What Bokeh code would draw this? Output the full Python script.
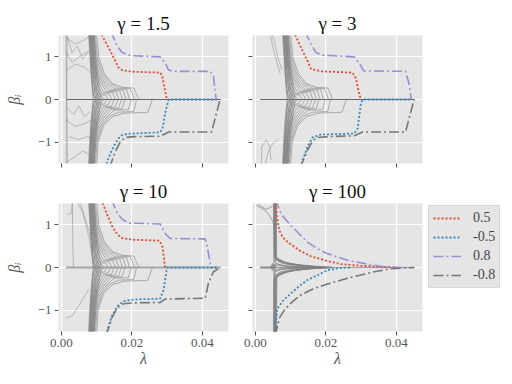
from bokeh.plotting import figure
from bokeh.layouts import column, row
from bokeh.models import (Range1d, FixedTicker, Legend, LegendItem, NumeralTickFormatter,
                          CustomJSTickFormatter)
from bokeh.embed import file_html
from bokeh.resources import INLINE

# ---------------- data ----------------
gamma_titles = ["γ = 1.5", "γ = 3", "γ = 10", "γ = 100"]
x_ticks = [0.0, 0.02, 0.04]
y_ticks = [-1, 0, 1]
y_tick_labels = {-1: "−1", 0: "0", 1: "1"}
legend_labels = ["0.5", "-0.5", "0.8", "-0.8"]

# highlighted coefficient paths, gamma = 1.5
red_g15_lam = [0.0108, 0.0125, 0.0139, 0.0153, 0.0162, 0.0172, 0.0186, 0.0205, 0.0280, 0.0286, 0.0292, 0.0299]
red_g15_beta = [1.6, 1.35, 1.13, 0.90, 0.75, 0.69, 0.67, 0.65, 0.63, 0.55, 0.29, 0.0]
blue_g15_lam = [0.0124, 0.0130, 0.0139, 0.0153, 0.0162, 0.0172, 0.0195, 0.0280, 0.0288, 0.0294, 0.0304, 0.0441]
blue_g15_beta = [-1.6, -1.45, -1.26, -1.03, -0.91, -0.83, -0.80, -0.77, -0.64, -0.33, 0.0, 0.0]
purple_g15_lam = [0.0140, 0.0158, 0.0172, 0.0195, 0.0280, 0.0294, 0.0304, 0.0318, 0.0422, 0.0431, 0.0439]
purple_g15_beta = [1.6, 1.25, 1.10, 1.03, 1.00, 0.86, 0.69, 0.66, 0.66, 0.56, 0.0]
gray_g15_lam = [0.0136, 0.0153, 0.0167, 0.0181, 0.0205, 0.0280, 0.0304, 0.0426, 0.0450]
gray_g15_beta = [-1.6, -1.22, -0.99, -0.89, -0.87, -0.86, -0.76, -0.76, 0.0]

# gamma = 3
red_g3_lam = [0.0108, 0.0134, 0.0148, 0.0158, 0.0172, 0.0186, 0.0275, 0.0285, 0.0292, 0.0299]
red_g3_beta = [1.6, 1.13, 0.90, 0.71, 0.69, 0.66, 0.63, 0.50, 0.21, 0.0]
blue_g3_lam = [0.0126, 0.0148, 0.0162, 0.0186, 0.0280, 0.0290, 0.0299, 0.0304, 0.0441]
blue_g3_beta = [-1.6, -1.10, -0.89, -0.82, -0.80, -0.68, -0.10, 0.0, 0.0]
purple_g3_lam = [0.0140, 0.0158, 0.0172, 0.0191, 0.0280, 0.0294, 0.0307, 0.0426, 0.0436, 0.0442]
purple_g3_beta = [1.6, 1.29, 1.10, 1.04, 1.00, 0.86, 0.67, 0.66, 0.36, 0.0]
gray_g3_lam = [0.0127, 0.0148, 0.0162, 0.0176, 0.0205, 0.0280, 0.0304, 0.0426, 0.0450]
gray_g3_beta = [-1.6, -1.18, -0.97, -0.89, -0.87, -0.85, -0.76, -0.76, 0.0]

# gamma = 10
red_g10_lam = [0.0113, 0.0129, 0.0143, 0.0158, 0.0172, 0.0205, 0.0278, 0.0287, 0.0294]
red_g10_beta = [1.6, 1.25, 0.98, 0.78, 0.69, 0.65, 0.63, 0.48, 0.0]
blue_g10_lam = [0.0125, 0.0143, 0.0158, 0.0176, 0.0205, 0.0280, 0.0290, 0.0299, 0.0301, 0.0445]
blue_g10_beta = [-1.6, -1.14, -0.91, -0.79, -0.75, -0.73, -0.52, -0.02, 0.0, 0.0]
purple_g10_lam = [0.0141, 0.0158, 0.0172, 0.0191, 0.0280, 0.0296, 0.0308, 0.0408, 0.0414, 0.0424]
purple_g10_beta = [1.6, 1.28, 1.13, 1.04, 1.02, 0.78, 0.68, 0.67, 0.48, 0.0]
gray_g10_lam = [0.0127, 0.0143, 0.0158, 0.0176, 0.0205, 0.0280, 0.0294, 0.0408, 0.0417, 0.0431, 0.0452]
gray_g10_beta = [-1.6, -1.18, -0.95, -0.85, -0.83, -0.82, -0.74, -0.72, -0.37, -0.10, 0.0]

# gamma = 100
red_g100_lam = [0.0056, 0.0061, 0.0068, 0.0077, 0.0092, 0.0125, 0.0158, 0.0205, 0.0242, 0.0299, 0.0356, 0.0403]
red_g100_beta = [1.6, 1.17, 0.86, 0.71, 0.59, 0.40, 0.26, 0.15, 0.08, 0.04, 0.015, 0.0]
blue_g100_lam = [0.0056, 0.0061, 0.0077, 0.0101, 0.0125, 0.0148, 0.0176, 0.0205, 0.0242, 0.0270]
blue_g100_beta = [-1.6, -0.98, -0.79, -0.60, -0.43, -0.29, -0.18, -0.06, -0.01, 0.0]
purple_g100_lam = [0.0056, 0.0073, 0.0101, 0.0125, 0.0148, 0.0176, 0.0205, 0.0261, 0.0318, 0.0356, 0.0403, 0.0450]
purple_g100_beta = [1.6, 1.25, 0.98, 0.78, 0.59, 0.44, 0.32, 0.17, 0.08, 0.03, 0.0, 0.0]
gray_g100_lam = [0.0056, 0.0068, 0.0082, 0.0101, 0.0125, 0.0158, 0.0195, 0.0261, 0.0337, 0.0384, 0.0450]
gray_g100_beta = [-1.6, -1.18, -1.00, -0.83, -0.66, -0.52, -0.41, -0.25, -0.10, -0.03, 0.0]

# background coefficient paths (gamma = 1.5, 3, 10)
bundle_up_lam = [
    [0.0076, 0.0081, 0.0085, 0.0090, 0.0095, 0.0105, 0.0112],
    [0.0078, 0.0083, 0.0088, 0.0095, 0.0105, 0.0115, 0.0123],
    [0.0079, 0.0085, 0.0091, 0.0100, 0.0110, 0.0125, 0.0133],
    [0.0081, 0.0087, 0.0094, 0.0105, 0.0115, 0.0135, 0.0143],
    [0.0083, 0.0089, 0.0097, 0.0110, 0.0120, 0.0145, 0.0153],
    [0.0085, 0.0091, 0.0100, 0.0115, 0.0128, 0.0155, 0.0163],
    [0.0087, 0.0093, 0.0103, 0.0120, 0.0135, 0.0165, 0.0173],
    [0.0089, 0.0096, 0.0107, 0.0125, 0.0142, 0.0175, 0.0183],
    [0.0092, 0.0099, 0.0111, 0.0130, 0.0150, 0.0185, 0.0193],
    [0.0095, 0.0102, 0.0116, 0.0138, 0.0160, 0.0195, 0.0208],
    [0.0099, 0.0106, 0.0122, 0.0145, 0.0175, 0.0205, 0.0220],
]
bundle_up_beta = [
    [1.6, 1.0, 0.50, 0.15, 0.05, 0.04, 0.0],
    [1.6, 1.0, 0.55, 0.20, 0.08, 0.07, 0.0],
    [1.6, 1.0, 0.55, 0.25, 0.11, 0.10, 0.0],
    [1.6, 1.0, 0.60, 0.30, 0.14, 0.13, 0.0],
    [1.6, 1.0, 0.60, 0.32, 0.17, 0.16, 0.0],
    [1.6, 1.0, 0.60, 0.34, 0.19, 0.18, 0.0],
    [1.6, 1.0, 0.60, 0.35, 0.21, 0.20, 0.0],
    [1.6, 1.0, 0.60, 0.36, 0.23, 0.22, 0.0],
    [1.6, 1.0, 0.62, 0.38, 0.25, 0.24, 0.0],
    [1.6, 1.0, 0.62, 0.38, 0.27, 0.26, 0.0],
    [1.6, 1.0, 0.60, 0.37, 0.28, 0.27, 0.0],
]
bundle_dn_lam = [
    [0.0076, 0.0080, 0.0084, 0.0089, 0.0094, 0.0102, 0.0109],
    [0.0078, 0.0082, 0.0087, 0.0094, 0.0103, 0.0112, 0.0120],
    [0.0080, 0.0084, 0.0090, 0.0099, 0.0108, 0.0122, 0.0130],
    [0.0081, 0.0086, 0.0093, 0.0104, 0.0114, 0.0132, 0.0140],
    [0.0083, 0.0088, 0.0096, 0.0109, 0.0120, 0.0142, 0.0150],
    [0.0085, 0.0090, 0.0099, 0.0114, 0.0127, 0.0152, 0.0160],
    [0.0087, 0.0092, 0.0102, 0.0119, 0.0134, 0.0162, 0.0170],
    [0.0089, 0.0095, 0.0106, 0.0124, 0.0141, 0.0172, 0.0180],
    [0.0092, 0.0098, 0.0110, 0.0129, 0.0150, 0.0190, 0.0198],
    [0.0095, 0.0101, 0.0115, 0.0136, 0.0160, 0.0205, 0.0213],
    [0.0099, 0.0104, 0.0120, 0.0145, 0.0180, 0.0245, 0.0258],
]
bundle_dn_beta = [
    [-1.6, -1.0, -0.50, -0.15, -0.05, -0.04, 0.0],
    [-1.6, -1.0, -0.55, -0.20, -0.08, -0.07, 0.0],
    [-1.6, -1.0, -0.55, -0.24, -0.11, -0.10, 0.0],
    [-1.6, -1.0, -0.60, -0.30, -0.14, -0.13, 0.0],
    [-1.6, -1.0, -0.60, -0.32, -0.17, -0.16, 0.0],
    [-1.6, -1.0, -0.60, -0.34, -0.19, -0.18, 0.0],
    [-1.6, -1.0, -0.60, -0.36, -0.21, -0.20, 0.0],
    [-1.6, -1.0, -0.62, -0.38, -0.23, -0.22, 0.0],
    [-1.6, -1.0, -0.62, -0.40, -0.25, -0.24, 0.0],
    [-1.6, -1.0, -0.62, -0.40, -0.30, -0.28, 0.0],
    [-1.6, -1.0, -0.60, -0.40, -0.32, -0.30, 0.0],
]
trunk_lam = [
    [0.0079, 0.0083, 0.0087, 0.0090],
    [0.0081, 0.0085, 0.0089, 0.0093],
    [0.0084, 0.0088, 0.0093, 0.0097],
    [0.0086, 0.0091, 0.0096, 0.0101],
    [0.0088, 0.0093, 0.0099, 0.0104],
    [0.0090, 0.0096, 0.0103, 0.0108],
    [0.0092, 0.0099, 0.0107, 0.0113],
]
trunk_up_beta = [1.6, 0.8, 0.3, 0.0]
trunk_dn_beta = [-1.6, -0.8, -0.3, 0.0]

g15_extra_lam = [
    [0.0012, 0.0040, 0.0068, 0.0087],
    [0.0012, 0.0030, 0.0049, 0.0078],
    [0.0012, 0.0040, 0.0068, 0.0085],
    [0.0012, 0.0040, 0.0068, 0.0087],
    [0.0021, 0.0049, 0.0073, 0.0088],
    [0.0012, 0.0040, 0.0060, 0.0080],
    [0.0013, 0.0014, 0.0013],
    [0.0016, 0.0015, 0.0017],
    [0.0015, 0.0030, 0.0045, 0.0060, 0.0075],
    [0.0015, 0.0035, 0.0050, 0.0065, 0.0080],
]
g15_extra_beta = [
    [1.45, 1.30, 1.41, 1.55],
    [1.14, 0.87, 0.99, 1.14],
    [0.68, 0.83, 0.75, 0.60],
    [-0.48, -0.63, -0.56, -0.48],
    [-0.87, -0.94, -0.87, -0.90],
    [-1.48, -1.33, -1.20, -1.30],
    [1.6, 0.0, -1.6],
    [1.6, 0.2, -1.6],
    [1.50, 1.10, 1.25, 0.95, 1.10],
    [-0.20, -0.35, -0.15, -0.40, -0.30],
]
g3_extra_lam = [
    [0.0016, 0.0018, 0.0030, 0.0040, 0.0044],
    [0.0025, 0.0035, 0.0049, 0.0063],
    [0.0040, 0.0050, 0.0060, 0.0070],
    [0.0045, 0.0055, 0.0065, 0.0075],
]
g3_extra_beta = [
    [-1.6, -1.10, -0.95, -1.10, -1.41],
    [-1.6, -1.26, -1.03, -0.95],
    [1.6, 1.2, 0.9, 0.6],
    [1.6, 1.3, 0.95, 0.7],
]
g10_extra_lam = [
    [0.0017, 0.0028, 0.0031, 0.0032, 0.0034],
    [0.0040, 0.0060, 0.0078, 0.0092],
    [0.0011, 0.0030, 0.0054, 0.0077],
    [0.0050, 0.0065, 0.0080, 0.0090],
]
g10_extra_beta = [
    [1.24, 1.27, 1.6, 0.5, 0.0],
    [1.6, 1.3, 0.7, 0.0],
    [-1.18, -1.14, -0.83, -0.52],
    [1.6, 1.2, 0.8, 0.4],
]

# background coefficient paths (gamma = 100)
g100_up_lam = [
    [0.0052, 0.0053, 0.0056, 0.0075, 0.0110, 0.0160],
    [0.0054, 0.0054, 0.0057, 0.0080, 0.0120, 0.0180],
    [0.0055, 0.0056, 0.0059, 0.0085, 0.0130, 0.0200],
    [0.0056, 0.0057, 0.0060, 0.0090, 0.0140, 0.0220],
    [0.0057, 0.0058, 0.0062, 0.0095, 0.0150, 0.0220],
    [0.0058, 0.0058, 0.0064, 0.0100, 0.0160, 0.0220],
    [0.0053, 0.0055, 0.0058, 0.0070, 0.0100, 0.0150],
    [0.0055, 0.0056, 0.0060, 0.0078, 0.0110, 0.0170],
    [0.0051, 0.0052, 0.0055, 0.0068, 0.0095, 0.0140],
    [0.0059, 0.0060, 0.0066, 0.0105, 0.0170, 0.0220],
]
g100_up_beta = [
    [1.6, 0.30, 0.20, 0.10, 0.04, 0.0],
    [1.6, 0.35, 0.25, 0.13, 0.05, 0.0],
    [1.6, 0.30, 0.22, 0.12, 0.05, 0.0],
    [1.6, 0.28, 0.20, 0.10, 0.04, 0.0],
    [1.6, 0.25, 0.17, 0.08, 0.03, 0.0],
    [1.6, 0.20, 0.14, 0.07, 0.02, 0.0],
    [1.6, 0.15, 0.10, 0.06, 0.02, 0.0],
    [1.6, 0.12, 0.09, 0.05, 0.02, 0.0],
    [1.6, 0.10, 0.07, 0.04, 0.01, 0.0],
    [1.6, 0.22, 0.16, 0.08, 0.03, 0.0],
]
g100_dn_lam = [
    [0.0052, 0.0052, 0.0055, 0.0072, 0.0105, 0.0150],
    [0.0054, 0.0055, 0.0058, 0.0080, 0.0120, 0.0180],
    [0.0055, 0.0056, 0.0060, 0.0088, 0.0135, 0.0200],
    [0.0056, 0.0057, 0.0061, 0.0092, 0.0145, 0.0220],
    [0.0057, 0.0058, 0.0063, 0.0098, 0.0155, 0.0220],
    [0.0058, 0.0059, 0.0065, 0.0102, 0.0165, 0.0220],
    [0.0053, 0.0054, 0.0057, 0.0070, 0.0100, 0.0150],
    [0.0055, 0.0056, 0.0059, 0.0076, 0.0110, 0.0160],
    [0.0051, 0.0052, 0.0054, 0.0066, 0.0090, 0.0130],
    [0.0059, 0.0061, 0.0067, 0.0108, 0.0175, 0.0220],
]
g100_dn_beta = [
    [-1.6, -0.30, -0.20, -0.10, -0.04, 0.0],
    [-1.6, -0.35, -0.24, -0.12, -0.05, 0.0],
    [-1.6, -0.30, -0.22, -0.11, -0.04, 0.0],
    [-1.6, -0.27, -0.19, -0.09, -0.03, 0.0],
    [-1.6, -0.24, -0.16, -0.08, -0.03, 0.0],
    [-1.6, -0.20, -0.13, -0.06, -0.02, 0.0],
    [-1.6, -0.15, -0.10, -0.05, -0.02, 0.0],
    [-1.6, -0.12, -0.08, -0.04, -0.015, 0.0],
    [-1.6, -0.10, -0.06, -0.03, -0.01, 0.0],
    [-1.6, -0.22, -0.15, -0.07, -0.02, 0.0],
]
g100_extra_lam = [
    [0.0042, 0.0047, 0.0051, 0.0055, 0.0058],
    [0.0044, 0.0048, 0.0052, 0.0056],
    [0.0045, 0.0050, 0.0054, 0.0059],
    [0.0002, 0.0025, 0.0039, 0.0049, 0.0053],
    [0.0007, 0.0030, 0.0049],
]
g100_extra_beta = [
    [0.0, 0.07, -0.05, 0.08, 0.03],
    [0.0, -0.08, 0.06, -0.04],
    [0.0, 0.10, -0.10, 0.05],
    [1.46, 1.35, 1.23, 1.08, 0.95],
    [1.48, 1.36, 1.44],
]
zero_lam = [0.0013, 0.0452]
zero_left_g100_lam = [0.0013, 0.0050]

# ---------------- styling ----------------
RED, BLUE, PURPLE, GRAY = "#E24A33", "#348ABD", "#988ED5", "#777777"
BG_LINE = "#808080"
SERIF = "Liberation Serif"
DOT = "2 2"
DASHDOT = "10 3 2 3"


def make_fig(title, show_x, show_y, left, right, top, bottom):
    p = figure(frame_width=170, frame_height=128,
               x_range=Range1d(-0.00085, 0.0474), y_range=Range1d(-1.5, 1.5),
               output_backend="svg", toolbar_location=None,
               min_border_left=left, min_border_right=right,
               min_border_top=top, min_border_bottom=bottom,
               background_fill_color="#E5E5E5", border_fill_color="white",
               outline_line_color=None, title=title)
    p.title.text_font = SERIF
    p.title.text_font_size = "19px"
    p.title.text_font_style = "normal"
    p.title.align = "center"
    p.title.text_color = "#111111"
    p.title.standoff = 3
    p.xaxis.ticker = FixedTicker(ticks=x_ticks)
    p.yaxis.ticker = FixedTicker(ticks=y_ticks)
    for ax in (p.xaxis[0], p.yaxis[0]):
        ax.axis_line_color = None
        ax.major_tick_out = 4
        ax.major_tick_in = 0
        ax.minor_tick_out = 0
        ax.minor_tick_in = 0
        ax.major_tick_line_color = "#555555"
        ax.major_label_text_color = "#555555"
        ax.major_label_text_font = SERIF
        ax.major_label_text_font_size = "13px"
        ax.major_label_standoff = 3
        ax.axis_label_text_font = SERIF
        ax.axis_label_text_font_size = "16px"
        ax.axis_label_text_color = "#555555"
        ax.axis_label_text_font_style = "italic"
    if show_x:
        p.xaxis.axis_label = "λ"
        p.xaxis.axis_label_standoff = 0
        p.xaxis.formatter = NumeralTickFormatter(format="0.00")
    else:
        p.xaxis.formatter = CustomJSTickFormatter(code="return ''")
        p.xaxis.major_label_standoff = 0
    if show_y:
        p.yaxis.axis_label = "βᵢ"
        p.yaxis.axis_label_standoff = 12
        p.yaxis.major_label_overrides = y_tick_labels
    else:
        p.yaxis.formatter = CustomJSTickFormatter(code="return ''")
        p.yaxis.major_label_standoff = 0
    p.grid.grid_line_color = "white"
    p.grid.grid_line_width = 1.2
    return p


def draw_highlights(p, data):
    (rl, rb), (bl, bb), (pl, pb), (gl, gb) = data
    r1 = p.line(rl, rb, line_color=RED, line_width=1.8, line_dash=DOT)
    r2 = p.line(bl, bb, line_color=BLUE, line_width=1.8, line_dash=DOT)
    r3 = p.line(pl, pb, line_color=PURPLE, line_width=1.6, line_dash=DASHDOT)
    r4 = p.line(gl, gb, line_color=GRAY, line_width=1.6, line_dash=DASHDOT)
    return [r1, r2, r3, r4]


def draw_bundle(p, extra_lam, extra_beta, zero_color, zero_width):
    p.line(zero_lam, [0, 0], line_color=zero_color, line_width=zero_width)
    p.multi_line(bundle_up_lam, bundle_up_beta, line_color=BG_LINE, line_width=0.7, line_alpha=0.85)
    p.multi_line(bundle_dn_lam, bundle_dn_beta, line_color=BG_LINE, line_width=0.7, line_alpha=0.85)
    p.multi_line(trunk_lam, [trunk_up_beta] * len(trunk_lam), line_color=BG_LINE, line_width=0.8, line_alpha=0.85)
    p.multi_line(trunk_lam, [trunk_dn_beta] * len(trunk_lam), line_color=BG_LINE, line_width=0.8, line_alpha=0.85)
    p.multi_line(extra_lam, extra_beta, line_color=BG_LINE, line_width=0.6, line_alpha=0.8)


f1 = make_fig(gamma_titles[0], False, True, 58, 12, 35, 13)
draw_bundle(f1, g15_extra_lam, g15_extra_beta, "#666666", 1.2)
draw_highlights(f1, [(red_g15_lam, red_g15_beta), (blue_g15_lam, blue_g15_beta),
                     (purple_g15_lam, purple_g15_beta), (gray_g15_lam, gray_g15_beta)])

f2 = make_fig(gamma_titles[1], False, False, 12, 4, 35, 13)
draw_bundle(f2, g3_extra_lam, g3_extra_beta, "#666666", 1.2)
draw_highlights(f2, [(red_g3_lam, red_g3_beta), (blue_g3_lam, blue_g3_beta),
                     (purple_g3_lam, purple_g3_beta), (gray_g3_lam, gray_g3_beta)])

f3 = make_fig(gamma_titles[2], True, True, 58, 12, 27, 38)
draw_bundle(f3, g10_extra_lam, g10_extra_beta, "#A8A8A8", 2.2)
draw_highlights(f3, [(red_g10_lam, red_g10_beta), (blue_g10_lam, blue_g10_beta),
                     (purple_g10_lam, purple_g10_beta), (gray_g10_lam, gray_g10_beta)])

f4 = make_fig(gamma_titles[3], True, False, 12, 80, 27, 38)
f4.line(zero_left_g100_lam, [0, 0], line_color="#A8A8A8", line_width=2.5)
f4.line(zero_lam, [0, 0], line_color="#888888", line_width=0.8)
f4.multi_line(g100_up_lam, g100_up_beta, line_color=BG_LINE, line_width=0.8, line_alpha=0.85)
f4.multi_line(g100_dn_lam, g100_dn_beta, line_color=BG_LINE, line_width=0.8, line_alpha=0.85)
f4.multi_line(g100_extra_lam, g100_extra_beta, line_color=BG_LINE, line_width=0.8, line_alpha=0.85)
rs = draw_highlights(f4, [(red_g100_lam, red_g100_beta), (blue_g100_lam, blue_g100_beta),
                          (purple_g100_lam, purple_g100_beta), (gray_g100_lam, gray_g100_beta)])

legend = Legend(items=[LegendItem(label=lab, renderers=[r]) for lab, r in zip(legend_labels, rs)],
                location=(6, 43))
legend.margin = 0
legend.padding = 4
legend.spacing = 3
legend.glyph_width = 28
legend.glyph_height = 16
legend.label_height = 16
legend.label_text_font = SERIF
legend.label_text_font_size = "14px"
legend.label_standoff = 12
legend.background_fill_color = "#E5E5E5"
legend.background_fill_alpha = 1.0
legend.border_line_color = "#CCCCCC"
f4.add_layout(legend, "right")

layout = column(row(f1, f2), row(f3, f4))

with open("out.html", "w") as fh:
    fh.write(file_html(layout, INLINE))
